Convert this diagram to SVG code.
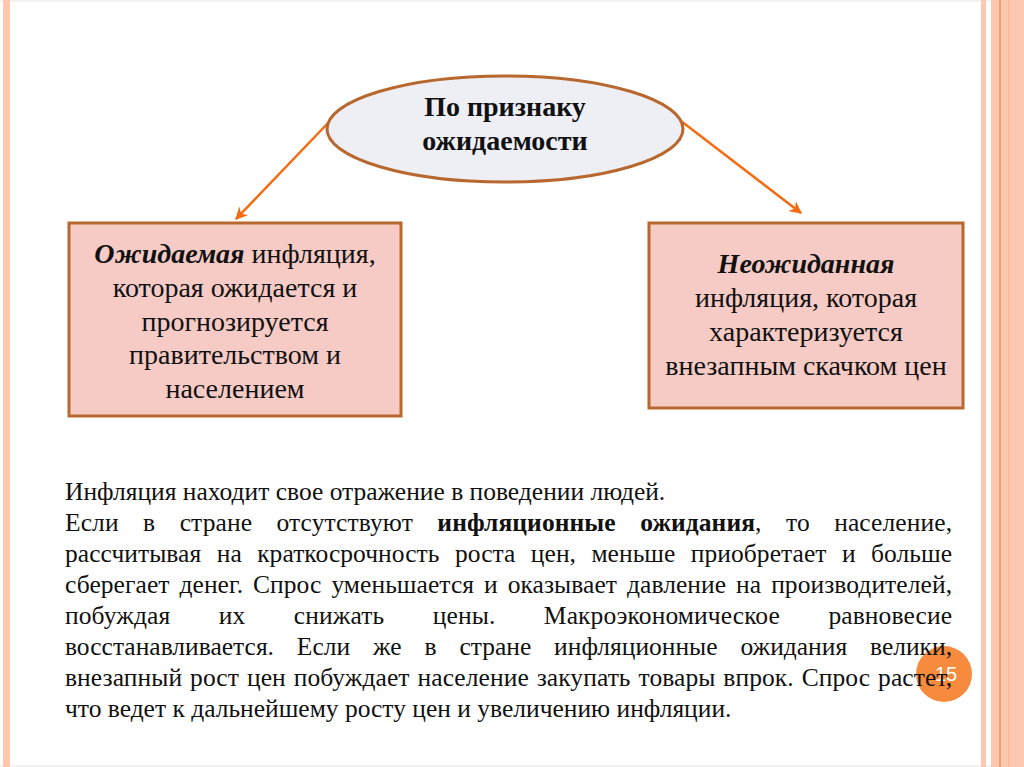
<svg xmlns="http://www.w3.org/2000/svg" width="1024" height="767" viewBox="0 0 1024 767">
<defs>
<style>
.serif{font-family:"Liberation Serif","Times New Roman",serif;fill:#111;}
.box{fill:#F6CBC5;stroke:#B8682E;stroke-width:3;}
.bt{font-size:28px;text-anchor:middle;}
.p{font-size:25.5px;}
.conn{stroke:#F36C12;stroke-width:2.5;fill:none;marker-end:url(#ah);}
</style>
<marker id="ah" viewBox="0 0 10 10" refX="9" refY="5" markerWidth="5" markerHeight="5" orient="auto" markerUnits="strokeWidth">
<path d="M0,0 L10,5 L0,10 L3,5 z" fill="#F36C12"/>
</marker>
</defs>
<rect x="0" y="0" width="1024" height="767" fill="#ffffff"/>
<g id="frame">
<line x1="0" y1="1" x2="1024" y2="1" stroke="#f2f2f2" stroke-width="2"/>
<line x1="0" y1="766" x2="1024" y2="766" stroke="#f2f2f2" stroke-width="2"/>
<rect x="3" y="0" width="7" height="767" fill="#FCC8B0"/>
<rect x="981" y="0" width="5" height="767" fill="#FCC8B0"/>
<rect x="991" y="0" width="33" height="767" fill="#FCC8B0"/>
<rect x="999" y="0" width="2" height="767" fill="#F4A070"/>
<rect x="1008" y="0" width="1" height="767" fill="#F8B898"/>
</g>
<g id="connectors">
<line class="conn" x1="329" y1="122" x2="236" y2="219"/>
<line class="conn" x1="681" y1="121" x2="801" y2="213"/>
</g>
<g id="root">
<ellipse cx="505" cy="129" rx="178" ry="53" fill="#EEEEF5" stroke="#B8682E" stroke-width="3"/>
<text class="serif" x="505" y="116" font-size="28" font-weight="bold" text-anchor="middle">По признаку</text>
<text class="serif" x="505" y="150" font-size="28" font-weight="bold" text-anchor="middle">ожидаемости</text>
</g>
<g id="expected">
<rect class="box" x="69" y="223" width="332" height="193"/>
<text class="serif bt" x="235" y="263"><tspan font-weight="bold" font-style="italic">Ожидаемая</tspan> инфляция,</text>
<text class="serif bt" x="235" y="297">которая ожидается и</text>
<text class="serif bt" x="235" y="331">прогнозируется</text>
<text class="serif bt" x="235" y="364">правительством и</text>
<text class="serif bt" x="235" y="398">населением</text>
</g>
<g id="unexpected">
<rect class="box" x="649" y="223" width="314" height="185"/>
<text class="serif bt" x="806" y="273" font-weight="bold" font-style="italic">Неожиданная</text>
<text class="serif bt" x="806" y="307">инфляция, которая</text>
<text class="serif bt" x="806" y="341">характеризуется</text>
<text class="serif bt" x="806" y="375">внезапным скачком цен</text>
</g>
<g id="pagenum">
<circle cx="944" cy="674" r="28" fill="#F68B3E"/>
<text x="946" y="681" font-family="Liberation Sans, Arial, sans-serif" font-size="20" fill="#ffffff" text-anchor="middle">15</text>
</g>
<g id="paragraph">
<text class="serif p" x="65" y="500">Инфляция находит свое отражение в поведении людей.</text>
<text class="serif p" x="65" y="531" word-spacing="18" textLength="887" lengthAdjust="spacing">Если в стране отсутствуют <tspan font-weight="bold">инфляционные ожидания</tspan>, то население,</text>
<text class="serif p" x="65" y="562" word-spacing="9" textLength="887" lengthAdjust="spacing">рассчитывая на краткосрочность роста цен, меньше приобретает и больше</text>
<text class="serif p" x="65" y="593" word-spacing="3.5" textLength="887" lengthAdjust="spacing">сберегает денег. Спрос уменьшается и оказывает давление на производителей,</text>
<text class="serif p" x="65" y="624" word-spacing="42" textLength="887" lengthAdjust="spacing">побуждая их снижать цены. Макроэкономическое равновесие</text>
<text class="serif p" x="65" y="655" word-spacing="16.5" textLength="887" lengthAdjust="spacing">восстанавливается. Если же в стране инфляционные ожидания велики,</text>
<text class="serif p" x="65" y="686" word-spacing="1.5" textLength="887" lengthAdjust="spacing">внезапный рост цен побуждает население закупать товары впрок. Спрос растет,</text>
<text class="serif p" x="65" y="717">что ведет к дальнейшему росту цен и увеличению инфляции.</text>
</g>
</svg>
